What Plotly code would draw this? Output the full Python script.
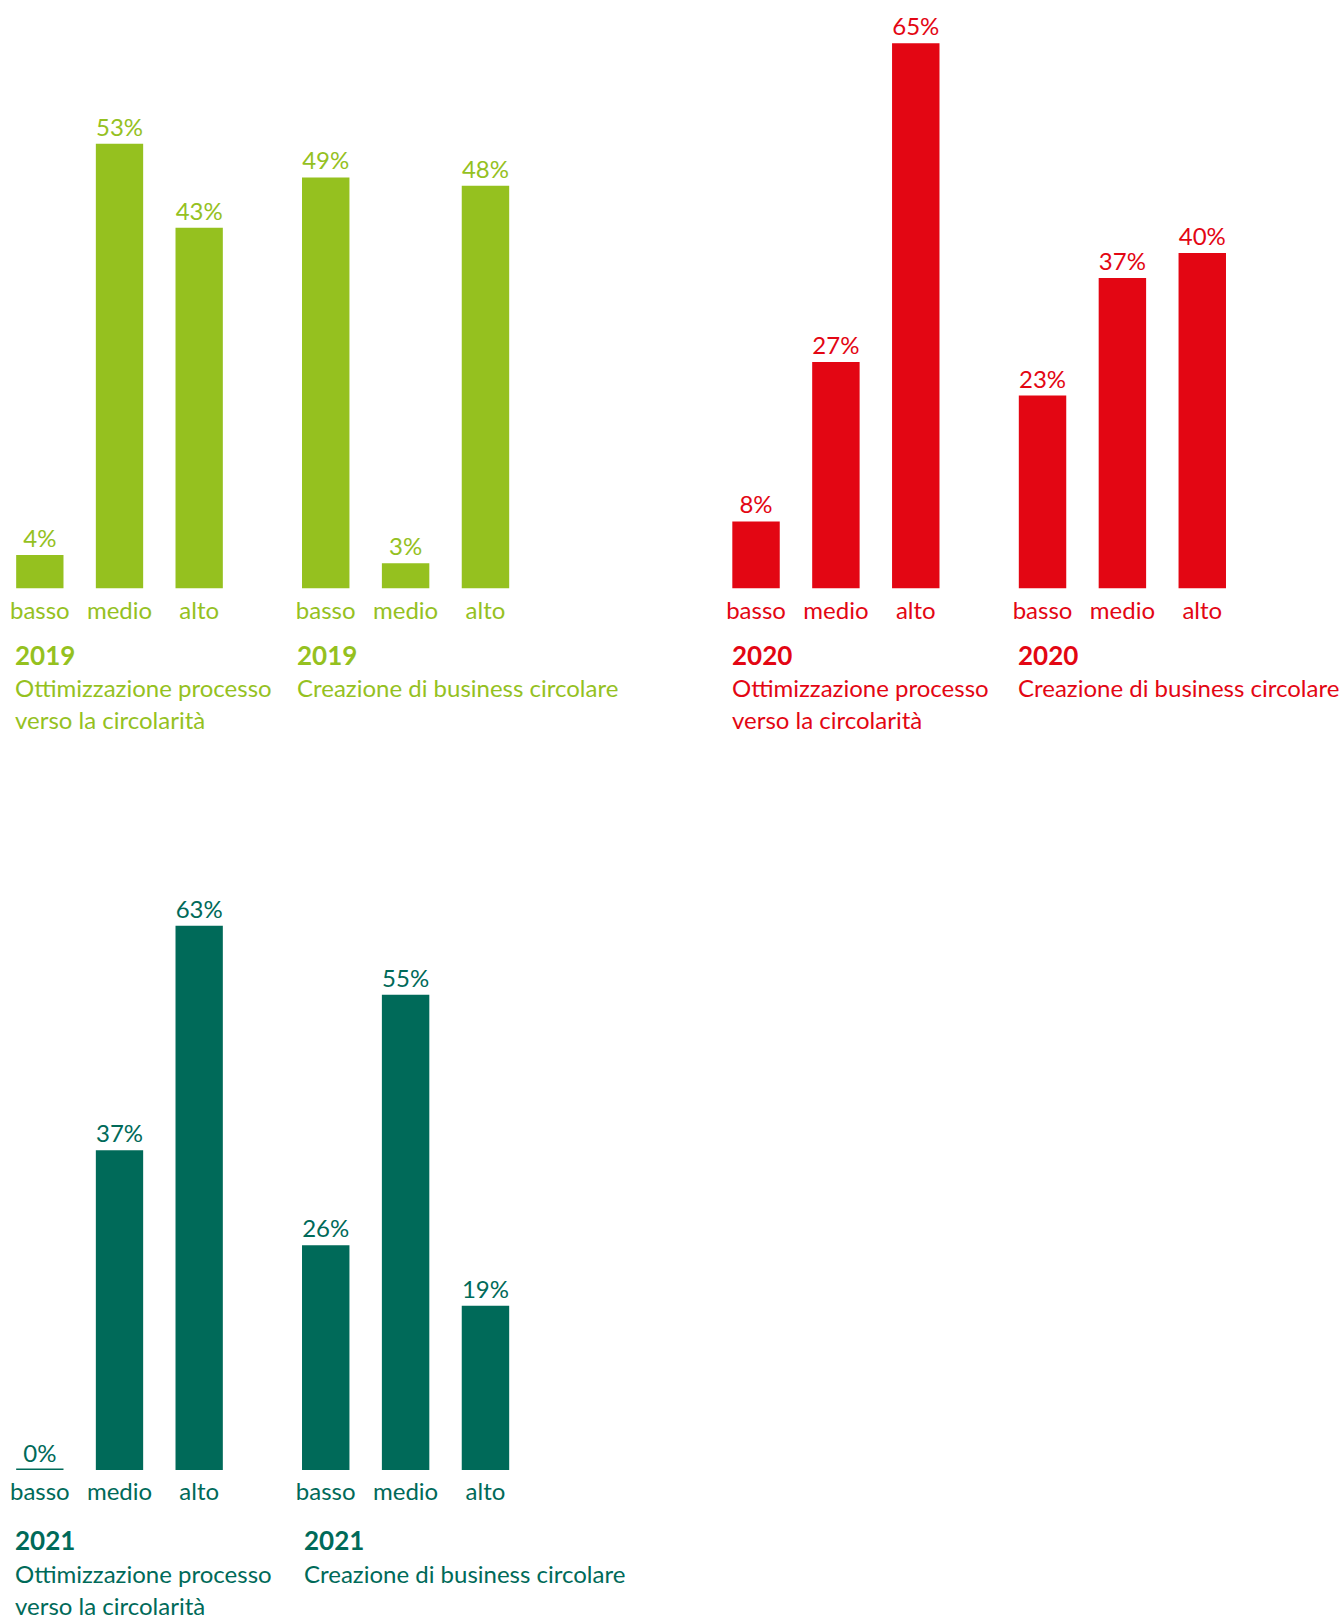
import plotly.graph_objects as go

W, H = 1344, 1616

categories = ["basso", "medio", "alto"]
pct_2019_proc = [4, 53, 43]
pct_2019_biz = [49, 3, 48]
pct_2020_proc = [8, 27, 65]
pct_2020_biz = [23, 37, 40]
pct_2021_proc = [0, 37, 63]
pct_2021_biz = [26, 55, 19]
title_proc = ["Ottimizzazione processo", "verso la circolarità"]
title_biz = ["Creazione di business circolare"]
colors = {"2019": "#95C11F", "2020": "#E30613", "2021": "#006A59"}

FONT = "Lato"

# panel: year, values, title lines, x-domain (px), title x (px), baseline (px), px per %, title rows (px)
panels = [
    ("2019", pct_2019_proc, title_proc, (0, 239), 13, 588.5, 8.39, (654.5, 687.5, 719.5)),
    ("2019", pct_2019_biz, title_biz, (285.8, 525.4), 295, 588.5, 8.39, (654.5, 687.5, 719.5)),
    ("2020", pct_2020_proc, title_proc, (716.1, 955.7), 730, 588.5, 8.39, (654.5, 687.5, 719.5)),
    ("2020", pct_2020_biz, title_biz, (1002.6, 1242.2), 1016, 588.5, 8.39, (654.5, 687.5, 719.5)),
    ("2021", pct_2021_proc, title_proc, (0, 239), 13, 1470.0, 8.64, (1540, 1573, 1605)),
    ("2021", pct_2021_biz, title_biz, (285.8, 525.4), 302, 1470.0, 8.64, (1540, 1573, 1605)),
]

fig = go.Figure()
layout = {}
annotations = []
for i, (year, vals, tlines, (x0, x1), tx, base, ppp, trows) in enumerate(panels):
    n = "" if i == 0 else str(i + 1)
    col = colors[year]
    top_px = 0 if base < 800 else 800
    fig.add_trace(go.Bar(
        x=categories, y=vals,
        xaxis="x" + n, yaxis="y" + n,
        marker=dict(color=col, line=dict(color=col, width=[3 if v == 0 else 0 for v in vals])),
        text=[f"{v}%" for v in vals],
        textposition="outside",
        textangle=0,
        constraintext="none",
        textfont=dict(family=FONT, size=24, color=col),
        cliponaxis=False,
        showlegend=False,
        hoverinfo="skip",
    ))
    layout["xaxis" + n] = dict(
        domain=[x0 / W, x1 / W], anchor="y" + n,
        showgrid=False, zeroline=False, showline=False, ticks="",
        tickfont=dict(family=FONT, size=24, color=col),
        ticklabelstandoff=5,
        fixedrange=True,
    )
    layout["yaxis" + n] = dict(
        domain=[1 - base / H, 1 - top_px / H], anchor="x" + n,
        range=[0, (base - top_px) / ppp], visible=False, fixedrange=True,
    )
    annotations.append(dict(
        xref="paper", yref="paper", x=tx / W, y=1 - trows[0] / H,
        xanchor="left", yanchor="middle", showarrow=False,
        text=f"<b>{year}</b>", font=dict(family=FONT, size=26, color=col, weight=900),
    ))
    for j, line in enumerate(tlines):
        annotations.append(dict(
            xref="paper", yref="paper", x=tx / W, y=1 - trows[j + 1] / H,
            xanchor="left", yanchor="middle", showarrow=False,
            text=line, font=dict(family=FONT, size=24, color=col),
        ))

fig.update_layout(
    width=W, height=H,
    margin=dict(l=0, r=0, t=0, b=0),
    paper_bgcolor="white", plot_bgcolor="white",
    bargap=0.406,
    annotations=annotations,
    font=dict(family=FONT),
    **layout,
)

fig.write_html("out.html", config={"displayModeBar": False})
